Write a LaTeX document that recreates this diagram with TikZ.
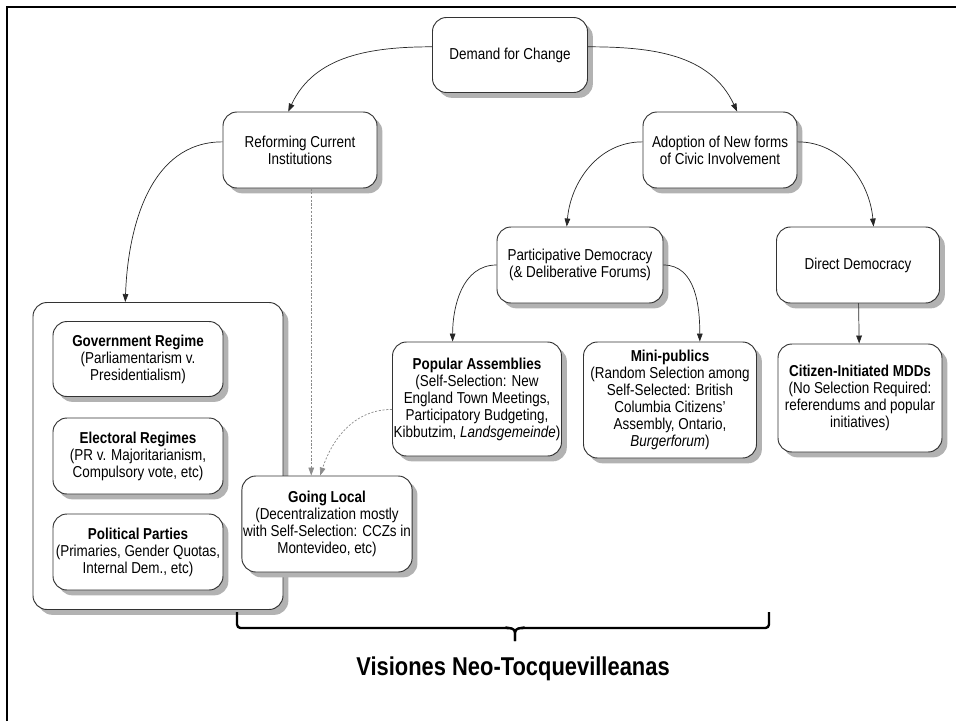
\documentclass[tikz,border=0pt]{standalone}
\usepackage{fontspec}
\setmainfont{Liberation Sans}[FakeStretch=0.85]
\usetikzlibrary{shadows,arrows.meta}

\tikzset{
  blk/.style={draw=black!80, line width=0.8pt, fill=white, rounded corners=0.42cm,
    align=center, inner sep=1pt, text=black,
    font=\fontsize{13.5}{14.5}\selectfont,
    drop shadow={shadow xshift=0.16cm, shadow yshift=-0.16cm, fill=black!30, opacity=1}},
  link/.style={black!85, line width=0.6pt, -{Triangle[length=0.24cm, width=0.17cm]}},
  weak/.style={black!45, line width=0.6pt, dash pattern=on 1.8pt off 1.4pt,
    -{Triangle[length=0.24cm, width=0.17cm]}},
}

\begin{document}
\begin{tikzpicture}[x=0.03cm, y=-0.03cm]
    \useasboundingbox (0,0) rectangle (956,721);
    % frame
    \draw[line width=2.4pt] (7,721) -- (7,7) -- (956,7);

    % top levels
    \node[blk, minimum width=4.65cm, minimum height=2.25cm] (demand) at (510,55) {Demand for Change};
    \node[blk, minimum width=4.62cm, minimum height=2.28cm] (reform) at (300,150) {Reforming Current\\Institutions};
    \node[blk, minimum width=4.62cm, minimum height=2.28cm] (adopt) at (720,150) {Adoption of New forms\\of Civic Involvement};
    \node[blk, minimum width=4.98cm, minimum height=2.28cm] (partic) at (580,265) {Participative Democracy\\(\& Deliberative Forums)};
    \node[blk, minimum width=4.89cm, minimum height=2.28cm] (direct) at (858,265) {Direct Democracy};

    % institutions group
    \node[blk, minimum width=7.5cm, minimum height=9.21cm] (group) at (158,456) {};
    \node[blk, minimum width=5.1cm, minimum height=2.25cm] (govt) at (138,359)
        {\textbf{Government Regime}\\(Parliamentarism v.\\Presidentialism)};
    \node[blk, minimum width=5.1cm, minimum height=2.28cm] (elect) at (138,456)
        {\textbf{Electoral Regimes}\\(PR v. Majoritarianism,\\Compulsory vote, etc)};
    \node[blk, minimum width=5.1cm, minimum height=2.28cm] (parties) at (138,552)
        {\textbf{Political Parties}\\(Primaries, Gender Quotas,\\Internal Dem., etc)};

    % lower level
    \node[blk, minimum width=4.95cm, minimum height=3.42cm] (popular) at (477,399)
        {\textbf{Popular Assemblies}\\(Self-Selection: New\\England Town Meetings,\\Participatory Budgeting,\\Kibbutzim, \textit{Landsgemeinde})};
    \node[blk, minimum width=5.19cm, minimum height=3.48cm] (mini) at (670,400)
        {\textbf{Mini-publics}\\(Random Selection among\\Self-Selected: British\\Columbia Citizens'\\Assembly, Ontario,\\\textit{Burgerforum})};
    \node[blk, minimum width=4.92cm, minimum height=3.24cm] (citizen) at (860,398)
        {\textbf{Citizen-Initiated MDDs}\\(No Selection Required:\\referendums and popular\\initiatives)};
    \node[blk, minimum width=5.1cm, minimum height=2.88cm] (local) at (327,524)
        {\textbf{Going Local}\\(Decentralization mostly\\with Self-Selection: CCZs in\\Montevideo, etc)};

    % connectors
    \draw[link] (demand.174) to[out=180, in=65] (reform.107);
    \draw[link] (demand.6) to[out=0, in=115] (adopt.66);
    \draw[link] (reform.174) to[out=180, in=88] (group.102);
    \draw[link] (adopt.174) to[out=180, in=85] (partic.109);
    \draw[link] (adopt.6) to[out=0, in=95] (direct.68);
    \draw[link] (partic.west) to[out=180, in=90] (popular.113);
    \draw[link] (partic.east) to[out=0, in=90] (mini.63);
    \draw[link] (direct) -- (citizen);
    \draw[weak] (local.108 |- reform.south) -- (local.108);
    \draw[weak] (popular.187) to[out=180, in=72] (local.98);

    % brace
    \draw[line width=2pt, rounded corners=3pt] (237,612) |- (509,628) -- (515,629) -- (515,641);
    \draw[line width=2pt, rounded corners=3pt] (769,612) |- (521,628) -- (515,629) -- (515,641);
    \node[font=\fontsize{22}{25}\selectfont\bfseries] (vision) at (513,669) {Visiones Neo-Tocquevilleanas};
\end{tikzpicture}
\end{document}
